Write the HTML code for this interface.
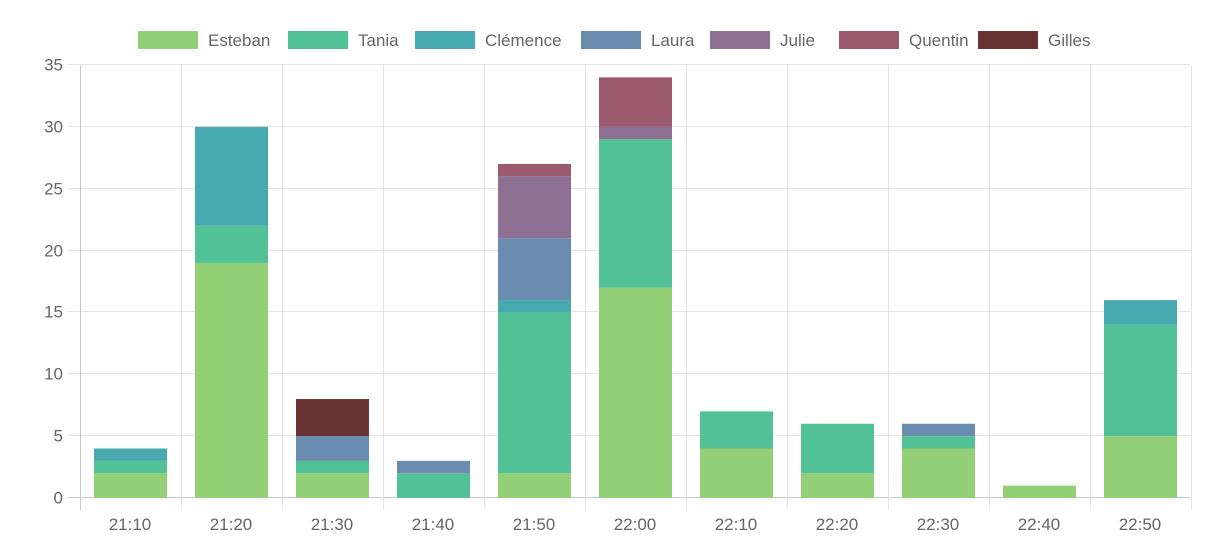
<!DOCTYPE html>
<html><head><meta charset="utf-8"><style>
body{margin:0;background:#fff;}
svg{display:block;font-family:"Liberation Sans",Arial,sans-serif;}
</style></head><body>
<svg id="c" width="1230" height="558" xmlns="http://www.w3.org/2000/svg"></svg>
<script>
const s=document.getElementById('c');let h='';
const cols=['#93cf77','#52c196','#48a9b0','#6a8caf','#8d7093','#9b5a6e','#6b3434'];
const names=['Esteban','Tania','Clémence','Laura','Julie','Quentin','Gilles'];
const labels=['21:10','21:20','21:30','21:40','21:50','22:00','22:10','22:20','22:30','22:40','22:50'];
const data=[[2,1,1],[19,3,8],[2,1,0,2,0,0,3],[0,2,0,1],[2,13,1,5,5,1],[17,12,0,0,1,4],[4,3],[2,4],[4,1,0,1],[1],[5,9,2]];
const x0=79.5,x1=1190.5,y0=498,yt=65,cw=(x1-x0)/11,u=(y0-yt)/35;
for(let k=0;k<=7;k++){const y=Math.round(y0-k*5*u)-0.5;
h+=`<line x1="68" x2="${x1}" y1="${y}" y2="${y}" stroke="${k==0?'#c8c8c8':'#e4e4e4'}"/>`;
h+=`<text x="63" y="${y+6}" font-size="17" fill="#666" text-anchor="end">${k*5}</text>`;}
for(let i=0;i<=11;i++){const x=Math.round(x0+i*cw)+0.5;
h+=`<line x1="${x}" x2="${x}" y1="${yt}" y2="510" stroke="${i==0?'#c8c8c8':'#e4e4e4'}"/>`;}
data.forEach((d,i)=>{let c=0;const bx=x0+i*cw+14.5;
d.forEach((v,j)=>{if(!v)return;const ya=y0-c*u,yb=y0-(c+v)*u;
h+=`<rect x="${bx}" y="${yb}" width="73" height="${ya-yb}" fill="${cols[j]}"/>`;c+=v;});
h+=`<text x="${x0+i*cw+cw/2}" y="530" font-size="17" fill="#666" text-anchor="middle">${labels[i]}</text>`;});
const lx=[138,288,415,581,710,839,978];
names.forEach((n,j)=>{h+=`<rect x="${lx[j]}" y="31" width="60" height="18" fill="${cols[j]}"/>`;
h+=`<text x="${lx[j]+70}" y="46" font-size="17" fill="#666">${n}</text>`;});
s.innerHTML=h;
</script>
</body></html>
